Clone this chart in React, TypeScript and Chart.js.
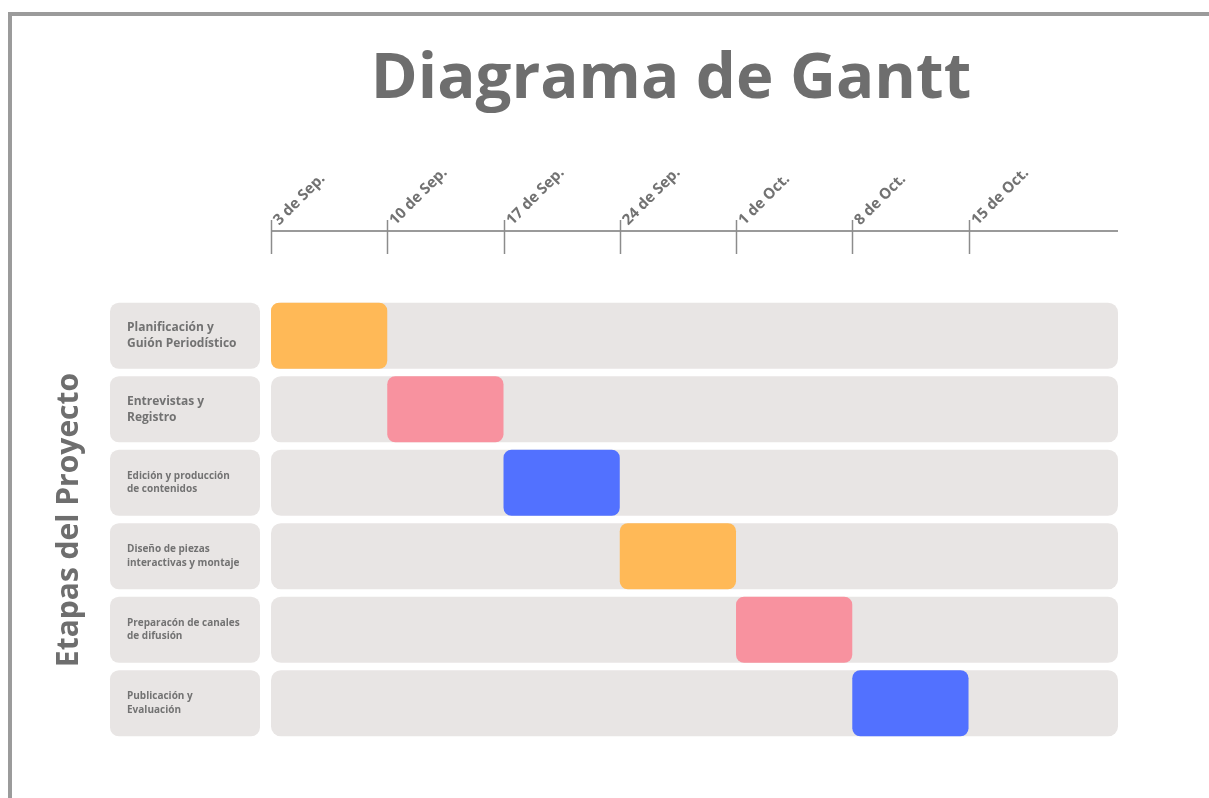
import { useEffect, useRef } from "react";
import { Chart, registerables } from "chart.js";

Chart.register(...registerables);

const TITLE = "Diagrama de Gantt";
const Y_TITLE = "Etapas del Proyecto";

const stages = [
  "Planificación y Guión Periodístico",
  "Entrevistas y Registro",
  "Edición y producción de contenidos",
  "Diseño de piezas interactivas y montaje",
  "Preparacón de canales de difusión",
  "Publicación y Evaluación",
];
const stageLines = [
  ["Planificación y", "Guión Periodístico"],
  ["Entrevistas y", "Registro"],
  ["Edición y producción", "de contenidos"],
  ["Diseño de piezas", "interactivas y montaje"],
  ["Preparacón de canales", "de difusión"],
  ["Publicación y", "Evaluación"],
];
// days counted from 3 Sep.
const startDay = [0, 7, 14, 21, 28, 35];
const endDay = [7, 14, 21, 28, 35, 42];
const tickDays = [0, 7, 14, 21, 28, 35, 42];
const tickLabels = ["3 de Sep.", "10 de Sep.", "17 de Sep.", "24 de Sep.", "1 de Oct.", "8 de Oct.", "15 de Oct."];
const timelineEnd = 51;
const barColors = ["#FFB957", "#F8929F", "#5271FF", "#FFB957", "#F8929F", "#5271FF"];

const FONT = "'Open Sans', 'Noto Sans', sans-serif";
const ROW_BG = "#E8E5E4";
const TEXT = "#727272";
const labelFontSizes = [12, 12, 10, 10, 10, 10];

const decorPlugin = {
  id: "decor",
  beforeDatasetsDraw(chart: any) {
    const ctx = chart.ctx;
    const x = chart.scales.x;
    const y = chart.scales.y;
    ctx.save();
    // frame
    ctx.fillStyle = "#9B9B9B";
    ctx.fillRect(8, 12, chart.width - 8, 4);
    ctx.fillRect(8, 12, 4, chart.height - 12);

    // title
    ctx.fillStyle = "#6E6E6E";
    ctx.font = `bold 63.5px ${FONT}`;
    ctx.textAlign = "center";
    ctx.textBaseline = "middle";
    ctx.fillText(TITLE, 671, 80);

    // y title
    ctx.save();
    ctx.translate(69, 520);
    ctx.rotate(-Math.PI / 2);
    ctx.font = `bold 30px ${FONT}`;
    ctx.fillText(Y_TITLE, 0, 0);
    ctx.restore();

    // time axis
    const axisY = 231;
    ctx.strokeStyle = "#9A9A9A";
    ctx.lineWidth = 2;
    ctx.beginPath();
    ctx.moveTo(x.getPixelForValue(0), axisY);
    ctx.lineTo(x.getPixelForValue(timelineEnd), axisY);
    ctx.stroke();
    ctx.strokeStyle = "#8C8C8C";
    ctx.lineWidth = 1.5;
    tickDays.forEach((d, i) => {
      const px = Math.round(x.getPixelForValue(d)) + 0.5;
      ctx.beginPath();
      ctx.moveTo(px, 220);
      ctx.lineTo(px, 254);
      ctx.stroke();
      ctx.save();
      ctx.translate(px + 10, 228);
      ctx.rotate(-Math.PI / 4);
      ctx.font = `bold 15px ${FONT}`;
      ctx.fillStyle = TEXT;
      ctx.textAlign = "left";
      ctx.textBaseline = "bottom";
      ctx.fillText(tickLabels[i], 0, 0);
      ctx.restore();
    });

    // stage label boxes
    const band = (y.bottom - y.top) / stages.length;
    const h = band * 0.9;
    stages.forEach((_, i) => {
      const cy = y.getPixelForValue(i);
      ctx.fillStyle = ROW_BG;
      ctx.beginPath();
      (ctx as any).roundRect(110, cy - h / 2, 150, h, 9);
      ctx.fill();
      const fs = labelFontSizes[i];
      const lh = fs * 1.36;
      ctx.font = `bold ${fs}px ${FONT}`;
      ctx.fillStyle = TEXT;
      ctx.textAlign = "left";
      ctx.textBaseline = "middle";
      const lines = stageLines[i];
      lines.forEach((ln, k) => {
        ctx.fillText(ln, 127, cy + (k - (lines.length - 1) / 2) * lh);
      });
    });
    ctx.restore();
  },
};

export default function App() {
  const ref = useRef<HTMLCanvasElement>(null);
  useEffect(() => {
    const canvas = ref.current!;
    const chart = new Chart(canvas, {
      type: "bar",
      data: {
        labels: stages,
        datasets: [
          {
            label: "Tareas",
            data: stages.map((_, i) => [startDay[i], endDay[i]]),
            backgroundColor: barColors,
            borderRadius: 8,
            borderSkipped: false,
            barPercentage: 0.9,
            categoryPercentage: 1,
            grouped: false,
            order: 1,
          } as any,
          {
            label: "Fondo",
            data: stages.map(() => [0, timelineEnd]),
            backgroundColor: ROW_BG,
            borderRadius: 10,
            borderSkipped: false,
            barPercentage: 0.9,
            categoryPercentage: 1,
            grouped: false,
            order: 2,
          } as any,
        ],
      },
      options: {
        indexAxis: "y",
        responsive: false,
        animation: false,
        layout: { padding: { left: 271, right: 91, top: 299, bottom: 58 } },
        scales: {
          x: { type: "linear", min: 0, max: timelineEnd, display: false },
          y: { type: "category", display: false },
        },
        plugins: {
          legend: { display: false },
          tooltip: { enabled: false },
          title: { display: false },
        },
      },
      plugins: [decorPlugin],
    });
    return () => chart.destroy();
  }, []);
  return (
    <div style={{ position: "fixed", left: 0, top: 0, width: 1209, height: 798, background: "#fff" }}>
      <canvas ref={ref} width={1209} height={798} style={{ width: 1209, height: 798, display: "block" }} />
    </div>
  );
}
